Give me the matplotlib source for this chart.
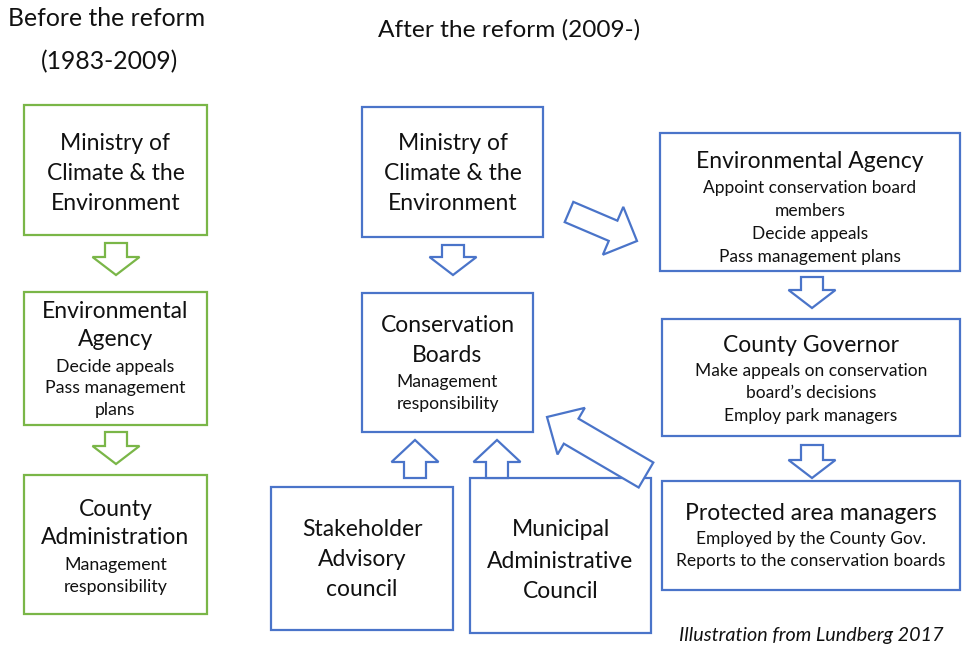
import matplotlib.pyplot as plt
from matplotlib.patches import Rectangle, FancyArrow

plt.rcParams['font.family'] = ['Lato', 'DejaVu Sans']

GREEN = '#7ab648'
BLUE = '#4a74c9'
INK = '#111111'

# texts of the diagram
before_title = ["Before the reform", "(1983-2009)"]
after_title = "After the reform (2009-)"

before_heads = [["Ministry of", "Climate & the", "Environment"],
                ["Environmental", "Agency"],
                ["County", "Administration"]]
before_notes = [[],
                ["Decide appeals", "Pass management", "plans"],
                ["Management", "responsibility"]]

after_heads = [["Ministry of", "Climate & the", "Environment"],
               ["Conservation", "Boards"],
               ["Stakeholder", "Advisory", "council"],
               ["Municipal", "Administrative", "Council"],
               ["Environmental Agency"],
               ["County Governor"],
               ["Protected area managers"]]
after_notes = [[],
               ["Management", "responsibility"],
               [],
               [],
               ["Appoint conservation board", "members", "Decide appeals", "Pass management plans"],
               ["Make appeals on conservation", "board\u2019s decisions", "Employ park managers"],
               ["Employed by the County Gov.", "Reports to the conservation boards"]]
credit = "Illustration from Lundberg 2017"

# layout in pixels: box (x0, y0, x1, y1), first line y, head step, note y, note step
before_boxes = [(24, 105, 207, 235, 143, 30, 0, 0),
                (24, 292, 207, 425, 311, 29, 367, 21.5),
                (24, 475, 207, 614, 509, 29, 565, 22)]
after_boxes = [(362, 107, 543, 237, 143, 30, 0, 0),
               (362, 293, 533, 432, 326, 29, 382, 22),
               (271, 487, 453, 630, 529, 30, 0, 0),
               (470, 478, 651, 633, 530, 31, 0, 0),
               (660, 133, 960, 271, 162, 0, 188, 23),
               (662, 319, 960, 436, 345, 0, 371, 22.5),
               (662, 481, 960, 590, 513, 0, 539, 22)]

fig = plt.figure(figsize=(9.66, 6.47), dpi=100)
ax = fig.add_axes([0, 0, 1, 1])
ax.set_xlim(0, 966)
ax.set_ylim(647, 0)
ax.axis('off')


def draw_box(b, heads, notes, color, head_size, note_size):
    x0, y0, x1, y1, hy, hstep, ny, nstep = b
    ax.add_patch(Rectangle((x0, y0), x1 - x0, y1 - y0, fill=False,
                           edgecolor=color, linewidth=1.6))
    cx = (x0 + x1) / 2
    for i, t in enumerate(heads):
        ax.text(cx, hy + i * hstep, t, ha='center', va='center',
                fontsize=head_size, color=INK)
    for i, t in enumerate(notes):
        ax.text(cx, ny + i * nstep, t, ha='center', va='center',
                fontsize=note_size, color=INK)


def block_arrow(x0, y0, x1, y1, color, w=22, hw=47, hl=18):
    ax.add_patch(FancyArrow(x0, y0, x1 - x0, y1 - y0, width=w, head_width=hw,
                            head_length=hl, length_includes_head=True,
                            facecolor='white', edgecolor=color, linewidth=1.6))


for b, h, n in zip(before_boxes, before_heads, before_notes):
    draw_box(b, h, n, GREEN, 16.5, 12.8)

head_sizes = [16.5, 16.5, 16.5, 16.5, 16.5, 16.5, 16.5]
note_sizes = [12.6, 12.6, 12.6, 12.6, 12.5, 12.5, 12.5]
for b, h, n, hs, ns in zip(after_boxes, after_heads, after_notes, head_sizes, note_sizes):
    draw_box(b, h, n, BLUE, hs, ns)

# arrows
block_arrow(116, 243, 116, 275, GREEN)
block_arrow(116, 432, 116, 464, GREEN)
block_arrow(453, 245, 453, 275, BLUE)
block_arrow(415, 478, 415, 440, BLUE, hl=22)
block_arrow(497, 478, 497, 440, BLUE, hl=22)
block_arrow(812, 277, 812, 308, BLUE)
block_arrow(812, 445, 812, 478, BLUE)
block_arrow(569, 212, 637, 241, BLUE, w=22, hw=52, hl=26)
block_arrow(646, 475, 547, 417, BLUE, w=29, hw=54, hl=28)

ax.text(8, 18, before_title[0], ha='left', va='center', fontsize=17.8, color=INK)
ax.text(110, 62, before_title[1], ha='center', va='center', fontsize=17.8, color=INK)
ax.text(509, 30, after_title, ha='center', va='center', fontsize=17.6, color=INK)
ax.text(811, 636, credit, ha='center', va='center', fontsize=14.2,
        style='italic', color=INK)

fig.savefig('out.png', dpi=100)
